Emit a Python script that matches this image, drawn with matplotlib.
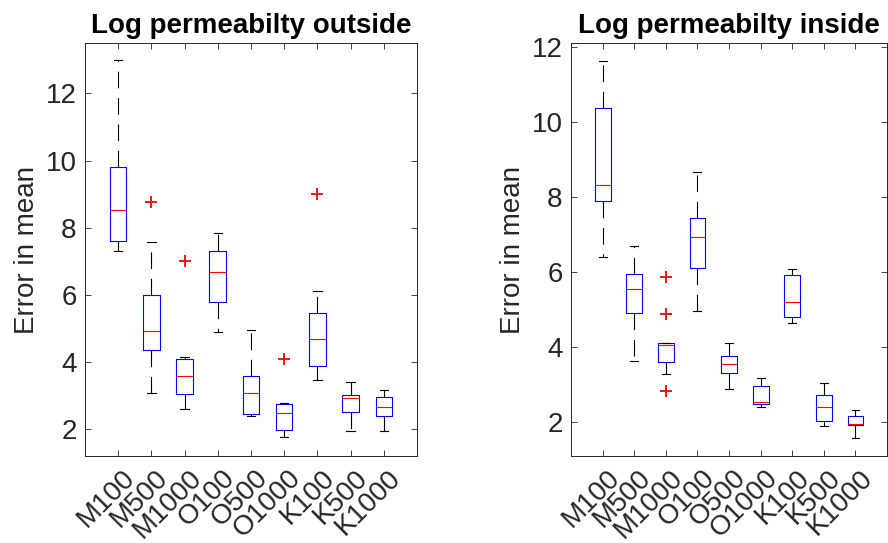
import matplotlib
matplotlib.use('Agg')
import matplotlib.pyplot as plt
from matplotlib.transforms import ScaledTranslation

plt.rcParams['font.family'] = ['Liberation Sans', 'DejaVu Sans']
plt.rcParams['lines.scale_dashes'] = False

labels = ['M100', 'M500', 'M1000', 'O100', 'O500', 'O1000', 'K100', 'K500', 'K1000']

# Log permeability outside
out_whislo = [7.31, 3.07, 2.60, 4.90, 2.39, 1.76, 3.46, 1.94, 1.94]
out_q1 = [7.61, 4.36, 3.04, 5.79, 2.45, 1.97, 3.88, 2.51, 2.39]
out_med = [8.54, 4.93, 3.58, 6.69, 3.07, 2.48, 4.69, 2.93, 2.66]
out_q3 = [9.82, 6.00, 4.09, 7.31, 3.58, 2.75, 5.46, 3.01, 2.96]
out_whishi = [12.99, 7.58, 4.15, 7.85, 4.96, 2.78, 6.12, 3.40, 3.16]
out_fliers = [[], [8.75], [7.01], [], [], [4.09], [8.99], [], []]

# Log permeability inside
in_whislo = [6.40, 3.63, 3.28, 4.96, 2.88, 2.40, 4.64, 1.89, 1.57]
in_q1 = [7.89, 4.91, 3.60, 6.11, 3.31, 2.48, 4.80, 2.03, 1.92]
in_med = [8.32, 5.55, 4.05, 6.93, 3.55, 2.53, 5.20, 2.40, 1.95]
in_q3 = [10.37, 5.95, 4.10, 7.44, 3.76, 2.96, 5.92, 2.72, 2.16]
in_whishi = [11.63, 6.69, 4.11, 8.67, 4.11, 3.17, 6.08, 3.04, 2.32]
in_fliers = [[], [], [5.87, 4.88, 2.83], [], [], [], [], [], []]


def make_stats(whislo, q1, med, q3, whishi, fliers):
    stats = []
    for i in range(len(labels)):
        stats.append(dict(whislo=whislo[i], q1=q1[i], med=med[i], q3=q3[i],
                          whishi=whishi[i], fliers=fliers[i], label=labels[i]))
    return stats


axcol = '#262626'
fs = 20

fig = plt.figure(figsize=(8.88, 5.43), dpi=100)
ax1 = fig.add_axes([0.0957, 0.1602, 0.3739, 0.7606])
ax2 = fig.add_axes([0.643, 0.1602, 0.356, 0.7606])

panels = [
    (ax1, make_stats(out_whislo, out_q1, out_med, out_q3, out_whishi, out_fliers),
     'Log permeabilty outside', (1.2, 13.5)),
    (ax2, make_stats(in_whislo, in_q1, in_med, in_q3, in_whishi, in_fliers),
     'Log permeabilty inside', (1.09, 12.1)),
]

# shift rotated tick labels the way MATLAB places them
shift = ScaledTranslation(0.13, -0.10, fig.dpi_scale_trans)

for ax, stats, title, ylim in panels:
    ax.bxp(stats, positions=range(1, 10), widths=0.5, showfliers=True,
           boxprops=dict(color='blue', linewidth=0.8),
           medianprops=dict(color='red', linewidth=0.8),
           whiskerprops=dict(color='black', linewidth=0.8, linestyle=(0, (12, 7))),
           capprops=dict(color='black', linewidth=0.8),
           capwidths=0.25,
           flierprops=dict(marker='+', markeredgecolor='red', markersize=8,
                           markeredgewidth=1.3, linestyle='none'))
    ax.set_xlim(0, 10)
    ax.set_ylim(*ylim)
    ax.set_yticks([2, 4, 6, 8, 10, 12])
    ax.set_xticks(range(1, 10))
    ax.set_xticklabels(labels, rotation=45, ha='right', va='center',
                       rotation_mode='anchor', fontsize=fs, color=axcol)
    ax.tick_params(axis='both', direction='in', length=4, width=0.6,
                   top=True, right=True, colors=axcol, labelsize=fs, pad=6)
    ax.tick_params(axis='x', pad=6)
    for lab in ax.get_xticklabels():
        lab.set_transform(lab.get_transform() + shift)
    for sp in ax.spines.values():
        sp.set_color(axcol)
        sp.set_linewidth(0.7)
    ax.set_title(title, fontsize=20, fontweight='bold', pad=7)
    ax.set_ylabel('Error in mean', fontsize=fs, color=axcol)

fig.savefig('out.png', dpi=100)
